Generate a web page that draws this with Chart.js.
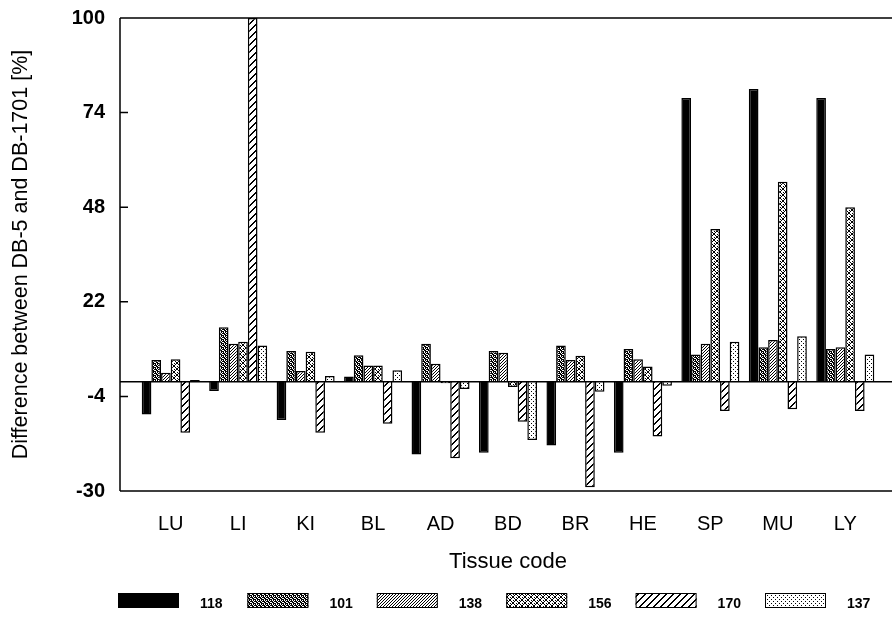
<!DOCTYPE html>
<html>
<head>
<meta charset="utf-8">
<script src="https://cdn.jsdelivr.net/npm/chart.js@4"></script>
<style>
  html, body { margin: 0; padding: 0; background: #fff; }
  #wrap { width: 894px; height: 618px; }
</style>
</head>
<body>
<div id="wrap"><canvas id="myChart" width="894" height="618"></canvas></div>
<script>
const categories = ['LU', 'LI', 'KI', 'BL', 'AD', 'BD', 'BR', 'HE', 'SP', 'MU', 'LY'];
const seriesNames = ['118', '101', '138', '156', '170', '137'];
const s118 = [-9, -2.5, -10.5, 1.5, -20, -19.5, -17.5, -19.5, 78, 80.5, 78];
const s101 = [6, 15, 8.5, 7.3, 10.5, 8.5, 10, 9, 7.5, 9.5, 9];
const s138 = [2.5, 10.5, 3, 4.5, 5, 8, 6, 6.2, 10.5, 11.5, 9.5];
const s156 = [6.2, 11, 8.3, 4.5, -0.4, -1.4, 7.2, 4.2, 42, 55, 48];
const s170 = [-14, 100, -14, -11.5, -21, -11, -29, -15, -8, -7.5, -8];
const s137 = [0.5, 10, 1.6, 3.2, -2, -16, -2.7, -1.1, 11, 12.5, 7.5];
const yTicks = [-30, -4, 22, 48, 74, 100];

const FONT = "'Liberation Sans', Arial, sans-serif";

// small offscreen tiles used as fill patterns for the bars
function makePattern(size, draw) {
  const c = document.createElement('canvas');
  c.width = size; c.height = size;
  const g = c.getContext('2d');
  g.fillStyle = '#fff';
  g.fillRect(0, 0, size, size);
  g.fillStyle = '#000';
  draw(g, size);
  return document.createElement('canvas').getContext('2d').createPattern(c, 'repeat');
}

const fills = [
  '#000',
  // dark stipple
  makePattern(4, (g) => {
    g.fillRect(0, 0, 4, 4);
    g.fillStyle = '#fff';
    [[0, 0], [2, 0], [1, 1], [3, 2], [0, 3], [2, 2]].forEach(([x, y]) => g.fillRect(x, y, 1, 1));
  }),
  // fine diagonal
  makePattern(3, (g) => {
    g.fillRect(0, 2, 1, 1); g.fillRect(1, 1, 1, 1); g.fillRect(2, 0, 1, 1);
  }),
  // cross hatch
  makePattern(6, (g) => {
    for (let i = 0; i < 6; i++) {
      g.fillRect(i, i, 1, 1);
      g.fillRect(5 - i, i, 1, 1);
    }
    g.fillRect(0, 3, 1, 1); g.fillRect(3, 0, 1, 1);
  }),
  // wide diagonal
  makePattern(7, (g) => {
    for (let i = 0; i < 7; i++) {
      g.fillRect(i, 6 - i, 1, 1);
      g.fillRect((i + 1) % 7, 6 - i, 1, 1);
    }
  }),
  // light dots
  makePattern(4, (g) => {
    g.fillRect(1, 1, 1, 1);
    g.fillRect(3, 3, 1, 1);
  })
];

const seriesData = [s118, s101, s138, s156, s170, s137];

// axis frame, zero line and inward tick marks
const framePlugin = {
  id: 'frame',
  afterDatasetsDraw(chart) {
    const ctx = chart.ctx;
    const y = chart.scales.y;
    const left = 120, right = 892;
    const top = y.getPixelForValue(100), bottom = y.getPixelForValue(-30);
    ctx.save();
    ctx.strokeStyle = '#000';
    ctx.lineWidth = 1.5;
    ctx.beginPath();
    ctx.moveTo(left, top); ctx.lineTo(right, top);
    ctx.moveTo(left, bottom); ctx.lineTo(right, bottom);
    ctx.moveTo(left, top); ctx.lineTo(left, bottom);
    const zero = y.getPixelForValue(0);
    ctx.moveTo(left, zero); ctx.lineTo(right, zero);
    yTicks.forEach(v => {
      const py = y.getPixelForValue(v);
      ctx.moveTo(left, py); ctx.lineTo(left + 8, py);
    });
    ctx.stroke();
    ctx.restore();
  }
};

// legend row with wide pattern swatches
const legendPlugin = {
  id: 'swatchLegend',
  afterDraw(chart) {
    const ctx = chart.ctx;
    ctx.save();
    chart.data.datasets.forEach((ds, i) => {
      const x = 118 + i * 129.4;
      ctx.fillStyle = ds.backgroundColor;
      ctx.fillRect(x, 593, 61, 15);
      ctx.strokeStyle = '#000';
      ctx.lineWidth = 1;
      ctx.strokeRect(x + 0.5, 593.5, 60, 14);
      ctx.fillStyle = '#000';
      ctx.font = 'bold 14px ' + FONT;
      ctx.textBaseline = 'middle';
      ctx.fillText(ds.label, x + 82, 604);
    });
    ctx.restore();
  }
};

new Chart(document.getElementById('myChart'), {
  type: 'bar',
  data: {
    labels: categories,
    datasets: seriesNames.map((name, i) => ({
      label: name,
      data: seriesData[i],
      backgroundColor: fills[i],
      borderColor: '#000',
      borderWidth: 1.5,
      borderSkipped: 'start',
      categoryPercentage: 0.86,
      barPercentage: 1.0
    }))
  },
  options: {
    responsive: false,
    animation: false,
    layout: { padding: { left: 0, right: 15, top: 18, bottom: 0 } },
    plugins: {
      legend: { display: false },
      tooltip: { enabled: false }
    },
    scales: {
      x: {
        grid: { display: false, drawTicks: false },
        border: { display: false },
        ticks: { color: '#000', padding: 21, font: { family: FONT, size: 20 } },
        title: {
          display: true,
          text: 'Tissue code',
          color: '#000',
          font: { family: FONT, size: 22 },
          padding: { top: 0, bottom: 43 }
        },
        afterFit(scale) { scale.height = 127; }
      },
      y: {
        min: -30,
        max: 100,
        grid: { display: false, drawTicks: false },
        border: { display: false },
        afterBuildTicks(scale) { scale.ticks = yTicks.map(v => ({ value: v })); },
        ticks: { color: '#000', padding: 32, font: { family: FONT, size: 20, weight: 'bold' } },
        title: {
          display: true,
          text: 'Difference between DB-5 and DB-1701 [%]',
          color: '#000',
          font: { family: FONT, size: 21.5 },
          padding: { top: 8, bottom: 0 }
        },
        afterFit(scale) {
          scale.width = 137;
          // tick padding would otherwise push the plot area down
          scale.paddingTop = 0;
          scale.paddingBottom = 0;
        }
      }
    }
  },
  plugins: [framePlugin, legendPlugin]
});
</script>
</body>
</html>
